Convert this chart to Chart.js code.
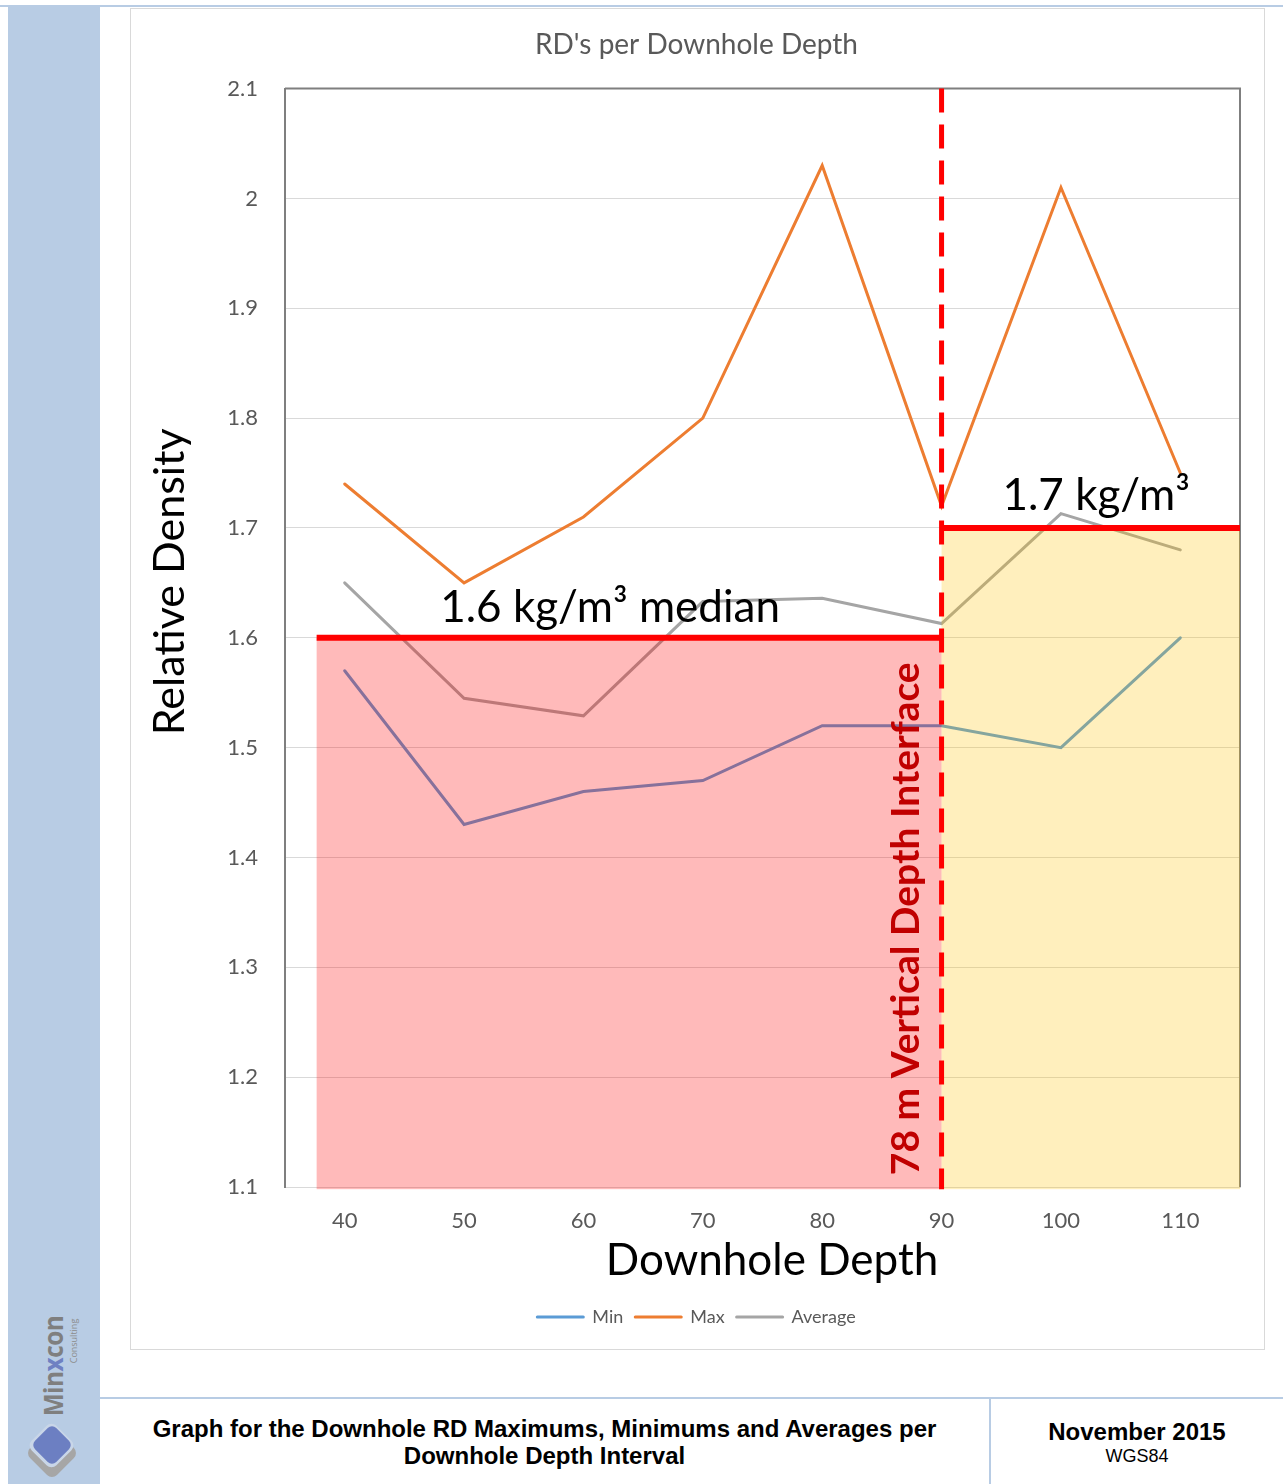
<!DOCTYPE html>
<html>
<head>
<meta charset="utf-8">
<title>RD's per Downhole Depth</title>
<script src="https://cdn.jsdelivr.net/npm/chart.js@4.4.1/dist/chart.umd.min.js"></script>
<style>
  html, body { margin: 0; padding: 0; background: #ffffff; }
  body { width: 1283px; height: 1484px; position: relative; overflow: hidden; font-family: "Liberation Sans", Arial, sans-serif; }
  .top-rule { position: absolute; left: 0; top: 5px; width: 1283px; height: 2px; background: #B8CCE4; }
  .sidebar { position: absolute; left: 8px; top: 7px; width: 92px; height: 1477px; background: #B8CCE4; }
  .chart-box { position: absolute; left: 130px; top: 8px; width: 1133px; height: 1340px; border: 1px solid #D9D9D9; background: #fff; }
  #chart { position: absolute; left: 0; top: 0; }
  .foot-rule { position: absolute; left: 100px; top: 1397px; width: 1183px; height: 2px; background: #B8CCE4; }
  .foot-div { position: absolute; left: 989px; top: 1398px; width: 2px; height: 86px; background: #B8CCE4; }
  .foot-title { position: absolute; left: 100px; top: 1415px; width: 889px; text-align: center; font-weight: bold; font-size: 24px; line-height: 27px; color: #000; }
  .foot-date { position: absolute; left: 991px; top: 1418px; width: 292px; text-align: center; color: #000; }
  .foot-date .d { font-weight: bold; font-size: 24px; line-height: 28px; }
  .foot-date .g { font-size: 18px; line-height: 20px; }
  .logo-word { position: absolute; left: 52px; top: 1366px; transform: translate(-50%, -50%) rotate(-90deg) scaleX(0.9); font-family: "Open Sans", sans-serif; font-weight: bold; font-size: 27px; color: #7F7F7F; white-space: nowrap; letter-spacing: -0.5px; }
  .logo-word span { color: #6F81C2; }
  .logo-sub { position: absolute; left: 73px; top: 1341px; transform: translate(-50%, -50%) rotate(-90deg); font-family: "Open Sans", sans-serif; font-size: 9px; color: #8C8C8C; white-space: nowrap; }
  .gem-shadow { position: absolute; left: 33px; top: 1434px; width: 38px; height: 38px; background: #A6A6A6; border-radius: 7px; transform: rotate(45deg); }
  .gem-gap { position: absolute; left: 34px; top: 1428px; width: 35px; height: 35px; background: #C9D6E8; border-radius: 7px; transform: rotate(45deg); }
  .gem { position: absolute; left: 37px; top: 1430px; width: 30px; height: 30px; background: #6C7FC2; border-radius: 6px; transform: rotate(45deg); }
</style>
</head>
<body>
<div class="top-rule"></div>
<div class="sidebar"></div>
<div class="logo-word">Min<span>x</span>con</div>
<div class="logo-sub">Consulting</div>
<div class="gem-shadow"></div>
<div class="gem-gap"></div>
<div class="gem"></div>

<div class="chart-box"><canvas id="chart" width="1133" height="1340"></canvas></div>

<div class="foot-rule"></div>
<div class="foot-div"></div>
<div class="foot-title">Graph for the Downhole RD Maximums, Minimums and Averages per<br>Downhole Depth Interval</div>
<div class="foot-date"><div class="d">November 2015</div><div class="g">WGS84</div></div>

<script>
// Downhole depth intervals (m)
const depths = [40, 50, 60, 70, 80, 90, 100, 110];

// Relative density per interval
const minRD = [1.57, 1.43, 1.46, 1.47, 1.52, 1.52, 1.50, 1.60];
const maxRD = [1.74, 1.65, 1.71, 1.80, 2.03, 1.72, 2.01, 1.75];
const avgRD = [1.65, 1.545, 1.529, 1.633, 1.636, 1.613, 1.713, 1.68];

// Value axis ticks
const yTicks = [1.1, 1.2, 1.3, 1.4, 1.5, 1.6, 1.7, 1.8, 1.9, 2.0, 2.1];

// Density zones above and below the vertical depth interface
const interfaceDepth = 90;
const zoneStart = [37.65, 90];
const zoneEnd = [90, 115];
const zoneMedian = [1.6, 1.7];
const zoneBase = 1.098;
const zoneLabels = ['1.6 kg/m\u00b3 median', '1.7 kg/m\u00b3'];
const interfaceLabel = '78 m Vertical Depth Interface';

const xTitle = 'Downhole Depth';
const yTitle = 'Relative Density';

const FONT = 'Lato, "Open Sans", sans-serif';

// depth (m) -> category index on the x axis
const depthIndex = d => (d - depths[0]) / (depths[1] - depths[0]);

const plotFrame = {
  id: 'plotFrame',
  beforeDatasetsDraw(chart) {
    const { ctx, chartArea: a } = chart;
    ctx.save();
    ctx.strokeStyle = '#7F7F7F';
    ctx.lineWidth = 2;
    ctx.beginPath();
    ctx.moveTo(a.left, a.top);
    ctx.lineTo(a.right, a.top);
    ctx.lineTo(a.right, a.bottom);
    ctx.stroke();
    ctx.restore();
  }
};

// axis titles, placed relative to the plot area
const axisTitles = {
  id: 'axisTitles',
  afterDraw(chart) {
    const { ctx, chartArea: a } = chart;
    ctx.save();
    ctx.fillStyle = '#000000';
    ctx.textAlign = 'center';
    ctx.textBaseline = 'middle';
    ctx.font = '44px ' + FONT;
    ctx.fillText(xTitle, a.left + (a.right - a.left) * 0.51, a.bottom + 74);
    ctx.translate(a.left - 115, a.top + (a.bottom - a.top) * 0.449);
    ctx.rotate(-Math.PI / 2);
    ctx.font = '43px ' + FONT;
    ctx.fillText(yTitle, 0, 0);
    ctx.restore();
  }
};

const zones = {
  id: 'zones',
  afterDatasetsDraw(chart) {
    const { ctx } = chart;
    const x = chart.scales.x, y = chart.scales.y;
    const fills = ['rgba(255, 0, 0, 0.27)', 'rgba(255, 192, 0, 0.26)'];
    ctx.save();
    // shaded zones
    zoneStart.forEach((s, i) => {
      const x0 = x.getPixelForValue(depthIndex(s));
      const x1 = x.getPixelForValue(depthIndex(zoneEnd[i]));
      const y0 = y.getPixelForValue(zoneMedian[i]);
      const y1 = y.getPixelForValue(zoneBase);
      ctx.fillStyle = fills[i];
      ctx.fillRect(x0, y0, x1 - x0, y1 - y0);
    });
    // median lines
    ctx.strokeStyle = '#FF0000';
    ctx.lineWidth = 6;
    zoneStart.forEach((s, i) => {
      const x0 = x.getPixelForValue(depthIndex(s));
      const x1 = x.getPixelForValue(depthIndex(zoneEnd[i]));
      const yy = y.getPixelForValue(zoneMedian[i]);
      ctx.beginPath();
      ctx.moveTo(x0, yy);
      ctx.lineTo(x1, yy);
      ctx.stroke();
    });
    // interface line
    const xi = x.getPixelForValue(depthIndex(interfaceDepth));
    ctx.lineWidth = 5;
    ctx.setLineDash([24, 12]);
    ctx.beginPath();
    ctx.moveTo(xi, y.getPixelForValue(yTicks[yTicks.length - 1]));
    ctx.lineTo(xi, y.getPixelForValue(zoneBase));
    ctx.stroke();
    ctx.setLineDash([]);

    // zone labels
    ctx.fillStyle = '#000000';
    ctx.font = '44px ' + FONT;
    ctx.textBaseline = 'alphabetic';
    ctx.textAlign = 'left';
    ctx.fillText(zoneLabels[0], x.getPixelForValue(0.8), y.getPixelForValue(zoneMedian[0]) - 16);
    ctx.fillText(zoneLabels[1], x.getPixelForValue(5.51), y.getPixelForValue(zoneMedian[1]) - 18);

    // interface label, read bottom-to-top
    ctx.save();
    ctx.translate(xi - 35, y.getPixelForValue(zoneBase) - 14);
    ctx.rotate(-Math.PI / 2);
    ctx.fillStyle = '#C00000';
    ctx.font = 'bold 39px ' + FONT;
    ctx.textBaseline = 'middle';
    ctx.textAlign = 'left';
    ctx.fillText(interfaceLabel, 0, 0);
    ctx.restore();
    ctx.restore();
  }
};

new Chart(document.getElementById('chart'), {
  type: 'line',
  data: {
    labels: depths.map(String),
    datasets: [
      { label: 'Min', data: minRD, borderColor: '#5B9BD5', backgroundColor: '#5B9BD5' },
      { label: 'Max', data: maxRD, borderColor: '#ED7D31', backgroundColor: '#ED7D31' },
      { label: 'Average', data: avgRD, borderColor: '#A5A5A5', backgroundColor: '#A5A5A5' }
    ]
  },
  options: {
    responsive: false,
    animation: false,
    devicePixelRatio: 1,
    layout: { padding: { left: 22, right: 24, top: 0, bottom: 13 } },
    elements: {
      line: { borderWidth: 3, tension: 0, borderCapStyle: 'round', borderJoinStyle: 'miter' },
      point: { radius: 0, hoverRadius: 0 }
    },
    plugins: {
      title: {
        display: true,
        text: "RD's per Downhole Depth",
        color: '#595959',
        font: { family: FONT, size: 28, weight: 'normal' },
        padding: { top: 19, bottom: 27 }
      },
      legend: {
        position: 'bottom',
        labels: {
          usePointStyle: true,
          pointStyleWidth: 46,
          color: '#595959',
          font: { family: FONT, size: 18 },
          padding: 12,
          generateLabels(chart) {
            return chart.data.datasets.map((ds, i) => ({
              text: ds.label,
              datasetIndex: i,
              hidden: !chart.isDatasetVisible(i),
              fillStyle: ds.borderColor,
              strokeStyle: ds.borderColor,
              fontColor: '#595959',
              lineWidth: 3,
              lineCap: 'round',
              pointStyle: 'line'
            }));
          }
        }
      },
      tooltip: { enabled: false }
    },
    scales: {
      x: {
        type: 'category',
        offset: true,
        grid: { display: false, drawTicks: false },
        border: { display: true, color: '#D9D9D9', width: 1 },
        ticks: { color: '#595959', font: { family: FONT, size: 22 }, padding: 21, maxRotation: 0 },
        afterFit(scale) { scale.height = 109; }
      },
      y: {
        min: yTicks[0],
        max: yTicks[yTicks.length - 1],
        afterBuildTicks(scale) { scale.ticks = yTicks.map(v => ({ value: v })); },
        grid: { color: '#D9D9D9', lineWidth: 1, drawTicks: false },
        border: { display: true, color: '#7F7F7F', width: 2 },
        ticks: {
          color: '#595959',
          font: { family: FONT, size: 22 },
          padding: 27,
          callback: v => String(+v.toFixed(2))
        },
        afterFit(scale) { scale.width = 132; }
      }
    }
  },
  plugins: [plotFrame, zones, axisTitles]
});
</script>
</body>
</html>
